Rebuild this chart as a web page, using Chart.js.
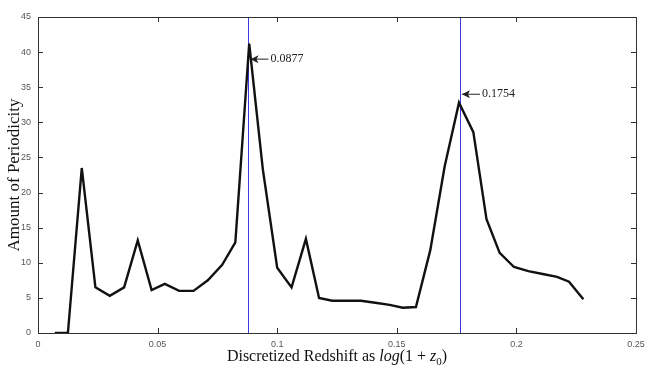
<!DOCTYPE html>
<html>
<head>
<meta charset="utf-8">
<script src="https://cdn.jsdelivr.net/npm/chart.js@4/dist/chart.umd.min.js"></script>
<style>
  html, body { margin: 0; padding: 0; background: #fff; }
  #wrap { width: 655px; height: 373px; position: relative; }
</style>
</head>
<body>
<div id="wrap"><canvas id="c"></canvas></div>
<script>
// redshift bins (log(1+z0)) and periodicity amount
const redshift = [0.007, 0.0125, 0.0183, 0.024, 0.030, 0.036, 0.0417, 0.0475, 0.053, 0.059,
  0.065, 0.071, 0.077, 0.0825, 0.0883, 0.094, 0.100, 0.106, 0.112, 0.1175,
  0.123, 0.129, 0.135, 0.141, 0.147, 0.1525, 0.158, 0.164, 0.170, 0.176,
  0.182, 0.1875, 0.193, 0.199, 0.205, 0.211, 0.217, 0.222, 0.228];
const periodicity = [0, 0, 23.5, 6.5, 5.3, 6.5, 13.2, 6.1, 7.0, 6.0,
  6.0, 7.5, 9.7, 12.9, 41.2, 23.3, 9.3, 6.5, 13.4, 5.0,
  4.6, 4.6, 4.6, 4.3, 4.0, 3.6, 3.7, 11.8, 23.7, 32.8,
  28.6, 16.2, 11.4, 9.4, 8.8, 8.4, 8.0, 7.3, 4.8];

// blue marker lines + their arrow labels
const markerX = [0.088, 0.1764];
const markerLabels = ['0.0877', '0.1754'];
const markerLabelY = [39.0, 34.0];

const xTicks = [0, 0.05, 0.1, 0.15, 0.2, 0.25];
const yTicks = [0, 5, 10, 15, 20, 25, 30, 35, 40, 45];

const serif = "'Liberation Serif','DejaVu Serif',serif";
const sans = "'Liberation Sans',Arial,sans-serif";

// frame, inward ticks, markers, annotations and axis titles (matlab look)
const decor = {
  id: 'decor',
  beforeDatasetsDraw(chart) {
    const { ctx, chartArea: a, scales: { x } } = chart;
    ctx.save();
    ctx.strokeStyle = '#3a3ae0';
    ctx.lineWidth = 1;
    markerX.forEach(v => {
      const px = Math.round(x.getPixelForValue(v)) + 0.5;
      ctx.beginPath();
      ctx.moveTo(px, a.top);
      ctx.lineTo(px, a.bottom);
      ctx.stroke();
    });
    ctx.restore();
  },
  afterDraw(chart) {
    const { ctx, chartArea: a, scales: { x, y } } = chart;
    ctx.save();
    ctx.strokeStyle = '#333';
    ctx.lineWidth = 1;
    ctx.strokeRect(a.left + 0.5, a.top + 0.5, a.right - a.left, a.bottom - a.top);
    const tl = 5;
    ctx.beginPath();
    xTicks.forEach(v => {
      const px = Math.round(x.getPixelForValue(v)) + 0.5;
      ctx.moveTo(px, a.bottom); ctx.lineTo(px, a.bottom - tl);
      ctx.moveTo(px, a.top); ctx.lineTo(px, a.top + tl);
    });
    yTicks.forEach(v => {
      const py = Math.round(y.getPixelForValue(v)) + 0.5;
      ctx.moveTo(a.left, py); ctx.lineTo(a.left + tl, py);
      ctx.moveTo(a.right, py); ctx.lineTo(a.right - tl, py);
    });
    ctx.stroke();

    // arrow annotations
    ctx.fillStyle = '#222';
    ctx.strokeStyle = '#222';
    ctx.font = '12px ' + serif;
    ctx.textBaseline = 'middle';
    markerX.forEach((v, i) => {
      const tipX = x.getPixelForValue(v) + 2;
      const py = y.getPixelForValue(markerLabelY[i]);
      ctx.beginPath();
      ctx.moveTo(tipX, py); ctx.lineTo(tipX + 18, py);
      ctx.stroke();
      ctx.beginPath();
      ctx.moveTo(tipX, py);
      ctx.lineTo(tipX + 8, py - 4);
      ctx.lineTo(tipX + 6, py);
      ctx.lineTo(tipX + 8, py + 4);
      ctx.closePath();
      ctx.fill();
      ctx.fillText(markerLabels[i], tipX + 20, py);
    });

    // x title with italic log and z_0
    const parts = [
      ['Discretized Redshift as ', '16px ' + serif, 0],
      ['log', 'italic 16px ' + serif, 0],
      ['(1 + ', '16px ' + serif, 0],
      ['z', 'italic 16px ' + serif, 0],
      ['0', '11px ' + serif, 4],
      [')', '16px ' + serif, 0]
    ];
    let w = 0;
    parts.forEach(p => { ctx.font = p[1]; w += ctx.measureText(p[0]).width; });
    let cx = (a.left + a.right) / 2 - w / 2;
    ctx.textBaseline = 'alphabetic';
    ctx.fillStyle = '#111';
    parts.forEach(p => {
      ctx.font = p[1];
      ctx.fillText(p[0], cx, 361 + p[2]);
      cx += ctx.measureText(p[0]).width;
    });

    // y title
    ctx.save();
    ctx.translate(19, (a.top + a.bottom) / 2);
    ctx.rotate(-Math.PI / 2);
    ctx.font = '17px ' + serif;
    ctx.textAlign = 'center';
    ctx.fillText('Amount of Periodicity', 0, 0);
    ctx.restore();
    ctx.restore();
  }
};

new Chart(document.getElementById('c'), {
  type: 'scatter',
  data: {
    datasets: [{
      data: redshift.map((v, i) => ({ x: v, y: periodicity[i] })),
      showLine: true,
      borderColor: '#111',
      borderWidth: 2.4,
      pointRadius: 0,
      tension: 0
    }]
  },
  options: {
    responsive: true, maintainAspectRatio: false,
    animation: false,
    layout: { padding: { top: 17, right: 19, left: 0, bottom: 0 } },
    plugins: { legend: { display: false }, tooltip: { enabled: false } },
    scales: {
      x: {
        type: 'linear', min: 0, max: 0.25,
        afterFit: s => { s.height = 40; },
        afterBuildTicks: s => { s.ticks = xTicks.map(v => ({ value: v })); },
        grid: { display: false, drawTicks: false },
        border: { display: false },
        ticks: { padding: 6, maxRotation: 0, color: '#555', font: { family: sans, size: 9 },
          callback: v => String(v) }
      },
      y: {
        min: 0, max: 45,
        afterFit: s => { s.width = 38; },
        afterBuildTicks: s => { s.ticks = yTicks.map(v => ({ value: v })); },
        grid: { display: false, drawTicks: false },
        border: { display: false },
        ticks: { padding: 7, color: '#555', font: { family: sans, size: 9 } }
      }
    }
  },
  plugins: [decor]
});
</script>
</body>
</html>
